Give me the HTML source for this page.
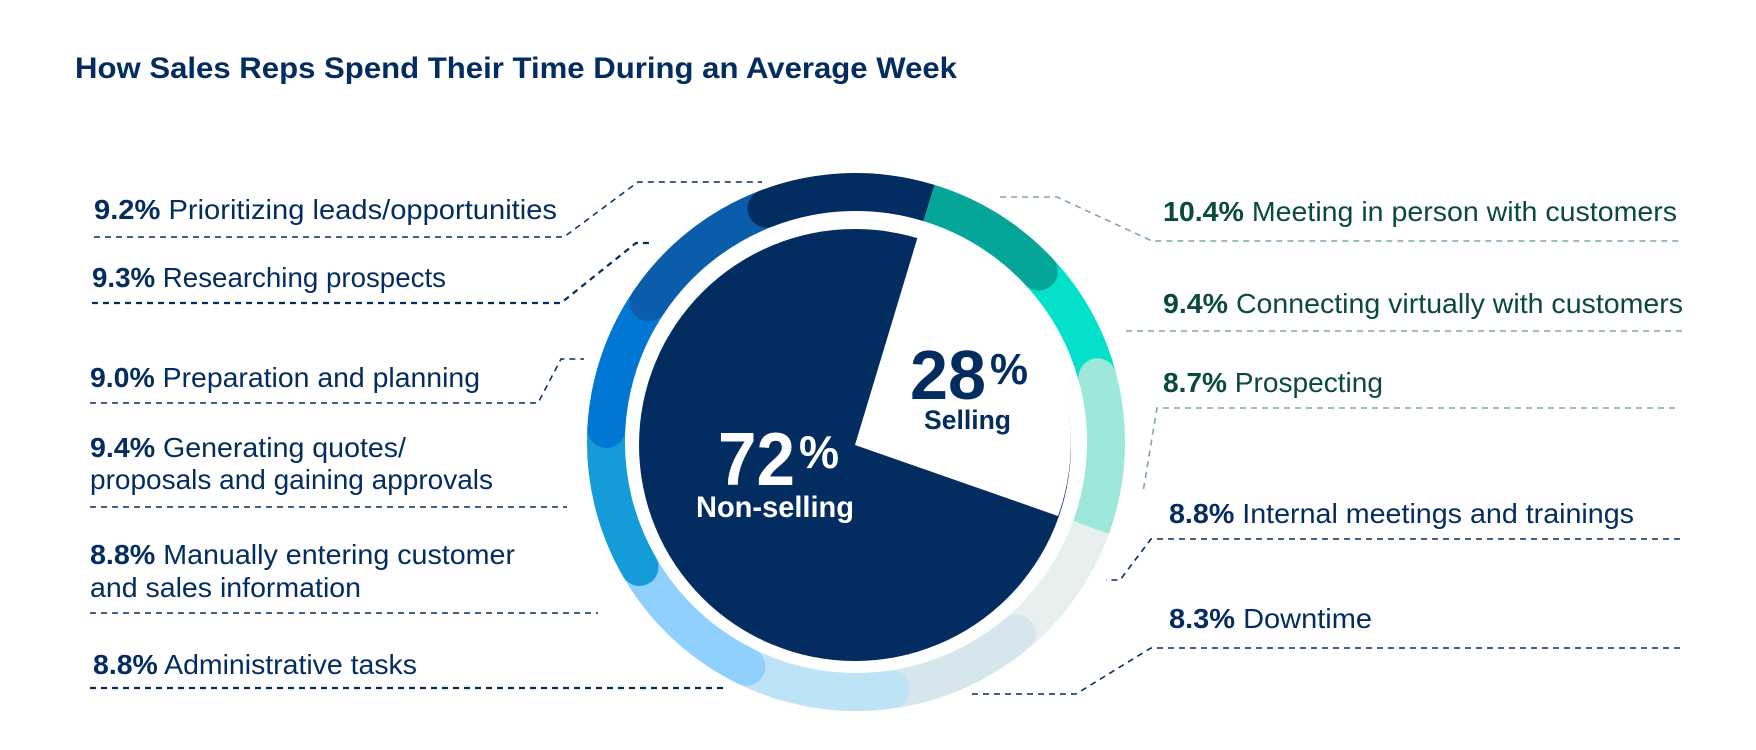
<!DOCTYPE html>
<html><head><meta charset="utf-8"><style>
html,body{margin:0;padding:0;background:#fff;}
svg{display:block;}
text{font-family:"Liberation Sans",sans-serif;}
</style></head><body>
<svg width="1756" height="750" viewBox="0 0 1756 750" xmlns="http://www.w3.org/2000/svg">
<rect width="1756" height="750" fill="#fff"/>
<text x="75" y="78" font-size="30" font-weight="bold" fill="#032d60" textLength="882" lengthAdjust="spacingAndGlyphs">How Sales Reps Spend Their Time During an Average Week</text>

<!-- ring -->
<g fill="none" stroke-width="38">
<path d="M766.5,208.5 A250 250 0 0 1 929,203" stroke="#032d60"/>
<path d="M929,203 A250 250 0 0 1 1038.8,271.5" stroke="#06a59a"/>
<path d="M1038.8,271.5 A250 250 0 0 1 1097.5,377.3" stroke="#04e1cb"/>
<path d="M1097.5,377.3 A250 250 0 0 1 1091,527.5" stroke="#9de8db"/>
<path d="M1091,527.5 A250 250 0 0 1 1016.7,633.5" stroke="#e8f0ef"/>
<path d="M1016.7,633.5 A250 250 0 0 1 890.8,689.6" stroke="#d5e6ec"/>
<path d="M890.8,689.6 A250 250 0 0 1 746.5,666.7" stroke="#bde3f6"/>
<path d="M746.5,666.7 A250 250 0 0 1 639.5,567" stroke="#90d0fe"/>
<path d="M639.5,567 A250 250 0 0 1 606.3,429" stroke="#139cd8"/>
<path d="M606.3,429 A250 250 0 0 1 648.7,302.2" stroke="#0176d3"/>
<path d="M648.7,302.2 A250 250 0 0 1 766.5,208.5" stroke="#0b5cab"/>
</g>
<g>
<circle cx="766.5" cy="208.5" r="19" fill="#032d60"/>
<circle cx="1038.8" cy="271.5" r="19" fill="#06a59a"/>
<circle cx="1097.5" cy="377.3" r="19" fill="#9de8db"/>
<circle cx="1016.7" cy="633.5" r="19" fill="#d5e6ec"/>
<circle cx="890.8" cy="689.6" r="19" fill="#bde3f6"/>
<circle cx="746.5" cy="666.7" r="19" fill="#90d0fe"/>
<circle cx="639.5" cy="567" r="19" fill="#139cd8"/>
<circle cx="606.3" cy="429" r="19" fill="#0176d3"/>
<circle cx="648.7" cy="302.2" r="19" fill="#0b5cab"/>
</g>

<!-- pie -->
<circle cx="855" cy="445" r="216" fill="#032d60"/>
<path d="M855,445 L918,236 A216 216 0 0 1 1058,516 Z" fill="#fff"/>

<text x="910" y="399" font-size="70" font-weight="bold" fill="#032d60" textLength="76" lengthAdjust="spacingAndGlyphs">28</text>
<text x="990" y="384" font-size="44" font-weight="bold" fill="#032d60" textLength="38" lengthAdjust="spacingAndGlyphs">%</text>
<text x="924" y="429" font-size="27" font-weight="bold" fill="#032d60" textLength="87" lengthAdjust="spacingAndGlyphs">Selling</text>
<text x="718" y="485" font-size="75" font-weight="bold" fill="#fff" textLength="77" lengthAdjust="spacingAndGlyphs">72</text>
<text x="799" y="468" font-size="46" font-weight="bold" fill="#fff" textLength="40" lengthAdjust="spacingAndGlyphs">%</text>
<text x="696" y="517" font-size="30" font-weight="bold" fill="#fff" textLength="158" lengthAdjust="spacingAndGlyphs">Non-selling</text>

<!-- left labels -->
<g font-size="28" fill="#032d60">
<text x="94" y="219" textLength="463" lengthAdjust="spacingAndGlyphs"><tspan font-weight="bold">9.2%</tspan> Prioritizing leads/opportunities</text>
<text x="92" y="287" textLength="354" lengthAdjust="spacingAndGlyphs"><tspan font-weight="bold">9.3%</tspan> Researching prospects</text>
<text x="90" y="387" textLength="390" lengthAdjust="spacingAndGlyphs"><tspan font-weight="bold">9.0%</tspan> Preparation and planning</text>
<text x="90" y="457" textLength="316" lengthAdjust="spacingAndGlyphs"><tspan font-weight="bold">9.4%</tspan> Generating quotes/</text>
<text x="90" y="489" textLength="403" lengthAdjust="spacingAndGlyphs">proposals and gaining approvals</text>
<text x="90" y="564" textLength="425" lengthAdjust="spacingAndGlyphs"><tspan font-weight="bold">8.8%</tspan> Manually entering customer</text>
<text x="90" y="597" textLength="271" lengthAdjust="spacingAndGlyphs">and sales information</text>
<text x="93" y="674" textLength="324" lengthAdjust="spacingAndGlyphs"><tspan font-weight="bold">8.8%</tspan> Administrative tasks</text>
</g>
<g fill="none" stroke="#032d60" stroke-width="1.5" stroke-dasharray="6 5">
<polyline points="94,237 564,237 638,182 762,182"/>
<polyline points="92,303 561,303 636,243 650,243" stroke-width="2.2"/>
<polyline points="90,403 538,403 561,359 584,359"/>
<polyline points="90,507 567,507"/>
<polyline points="90,613 598,613"/>
<polyline points="90,688 723,688" stroke-width="2.2"/>
</g>

<!-- right labels -->
<g font-size="28" fill="#0a4a3e">
<text x="1163" y="221" textLength="514" lengthAdjust="spacingAndGlyphs"><tspan font-weight="bold">10.4%</tspan> Meeting in person with customers</text>
<text x="1163" y="313" textLength="520" lengthAdjust="spacingAndGlyphs"><tspan font-weight="bold">9.4%</tspan> Connecting virtually with customers</text>
<text x="1163" y="392" textLength="220" lengthAdjust="spacingAndGlyphs"><tspan font-weight="bold">8.7%</tspan> Prospecting</text>
</g>
<g font-size="28" fill="#032d60">
<text x="1169" y="523" textLength="465" lengthAdjust="spacingAndGlyphs"><tspan font-weight="bold">8.8%</tspan> Internal meetings and trainings</text>
<text x="1169" y="628" textLength="203" lengthAdjust="spacingAndGlyphs"><tspan font-weight="bold">8.3%</tspan> Downtime</text>
</g>
<g fill="none" stroke="#7fa89b" stroke-width="1.6" stroke-dasharray="6 5">
<polyline points="1000,197 1057,197 1152,241 1679,241"/>
<polyline points="1126,331 1682,331"/>
<polyline points="1675,408 1157,408 1143,492"/>
</g>
<g fill="none" stroke="#032d60" stroke-width="1.6" stroke-dasharray="6 5">
<polyline points="1680,539 1151,539 1120,580 1106,580"/>
<polyline points="1680,648 1151,648 1076,694 972,694"/>
</g>
</svg>
</body></html>
